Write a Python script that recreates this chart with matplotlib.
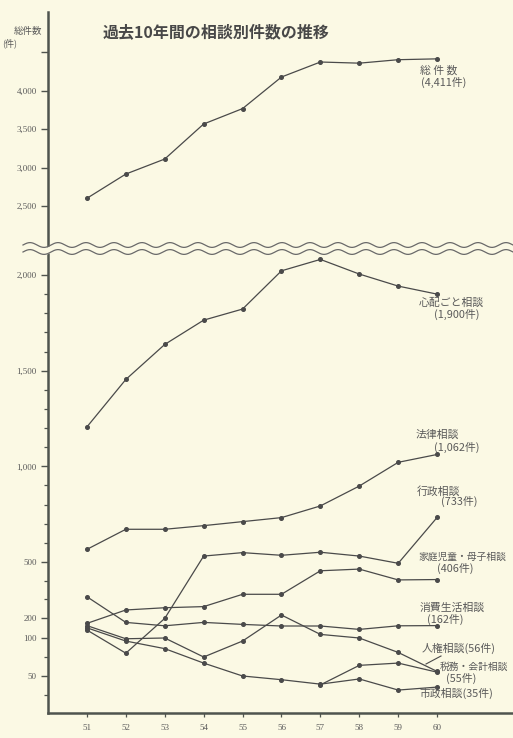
import numpy as np
import matplotlib
matplotlib.use('Agg')
import matplotlib.pyplot as plt
from matplotlib.lines import Line2D

# ---------------- data ----------------
years = [51, 52, 53, 54, 55, 56, 57, 58, 59, 60]
year_labels = ['51', '52', '53', '54', '55', '56', '57', '58', '59', '60']

total    = [2600, 2915, 3110, 3565, 3765, 4175, 4370, 4355, 4400, 4411]
shinpai  = [1206, 1454, 1637, 1764, 1822, 2022, 2082, 2005, 1942, 1900]
houritsu = [566, 671, 671, 690, 711, 732, 793, 897, 1021, 1062]
gyousei  = [140, 80, 198, 531, 549, 535, 551, 531, 493, 733]
katei    = [173, 243, 255, 261, 327, 327, 453, 462, 404, 406]
shouhi   = [314, 178, 161, 178, 168, 160, 160, 143, 161, 162]
jinken   = [162, 99, 100, 75, 96, 216, 118, 100, 81, 56]
zeimu    = [np.nan, np.nan, np.nan, np.nan, np.nan, np.nan, 38, 64, 67, 55]
shisei   = [151, 96, 86, 67, 50, 45, 39, 46, 31, 35]

series = [total, shinpai, houritsu, gyousei, katei, shouhi, jinken, zeimu, shisei]

major_ticks = [50, 100, 200, 500, 1000, 1500, 2000, 2500, 3000, 3500, 4000, 4500]
major_labels = ['50', '100', '200', '500', '1,000', '1,500', '2,000',
                '2,500', '3,000', '3,500', '4,000', '']
minor_ticks = [25, 75, 300, 400, 600, 700, 800, 900, 1100, 1200, 1300, 1400,
               1600, 1700, 1800, 1900]

title = '過去10年間の相談別件数の推移'

# ---------------- style ----------------
BG = '#fbf9e4'
LINE = '#4a4a4a'
TXT = '#5a5a5a'
SPINE = '#4f544e'
JP = ['Noto Sans CJK JP', 'DejaVu Sans']
SERIF = ['Liberation Serif', 'DejaVu Serif']

W, H = 513, 738
fig = plt.figure(figsize=(W / 100, H / 100), dpi=100, facecolor=BG)

ax_left, ax_bottom, ax_top, ax_right = 48, 713, 12, 513
ax = fig.add_axes([ax_left / W, (H - ax_bottom) / H,
                   (ax_right - ax_left) / W, (ax_bottom - ax_top) / H])
ax.set_facecolor(BG)

# piecewise (broken) vertical scale of the original chart
scale_vals = [0, 50, 100, 200, 500, 2000, 2200, 2400, 4500, 5200]
scale_pos = [0, 37, 75, 95, 151, 438, 476, 499.3, 661, 715]


def fwd(v):
    return np.interp(v, scale_vals, scale_pos)


def inv(p):
    return np.interp(p, scale_pos, scale_vals)


ax.set_yscale('function', functions=(fwd, inv))
ax.set_ylim(0, float(inv(701)))
ax.set_xlim(50.0, 61.95)

for s in series:
    ax.plot(years, s, color=LINE, lw=0.9, marker='o', ms=2.6,
            mfc=LINE, mec=LINE, zorder=3)

ax.set_yticks(major_ticks)
ax.set_yticklabels(major_labels)
ax.set_yticks(minor_ticks, minor=True)
ax.set_xticks(years)
ax.set_xticklabels(year_labels)

for lab in ax.get_yticklabels() + ax.get_xticklabels():
    lab.set_family(SERIF)
    lab.set_fontsize(6.5)
    lab.set_color(TXT)

ax.tick_params(axis='y', which='major', direction='out', length=5, width=1.0,
               color=SPINE, pad=3)
ax.tick_params(axis='y', which='minor', direction='out', length=3, width=0.9,
               color=SPINE)
ax.tick_params(axis='x', which='major', direction='out', length=3, width=0.9,
               color=SPINE, pad=5)

for side in ['top', 'right']:
    ax.spines[side].set_visible(False)
for side in ['left', 'bottom']:
    ax.spines[side].set_color(SPINE)
    ax.spines[side].set_linewidth(1.8)

# wavy break marks
axw = ax_right - ax_left
axh = ax_bottom - ax_top
xs = np.linspace(-25 / axw, 1.0, 600)
period = 28 / axw
amp = 2.4 / axh
phase = 2 * np.pi * (xs - xs[0]) / period
y_up = 468 / axh + amp * np.sin(phase)
y_lo = 461 / axh + amp * np.sin(phase)
ax.fill_between(xs, y_lo, y_up, transform=ax.transAxes, color=BG,
                zorder=5, clip_on=False, lw=0)
ax.plot(xs, y_up, transform=ax.transAxes, color='#6a6a6a', lw=0.9,
        zorder=6, clip_on=False)
ax.plot(xs, y_lo, transform=ax.transAxes, color='#6a6a6a', lw=0.9,
        zorder=6, clip_on=False)


def ftext(x, y, s, **kw):
    fig.text(x / W, 1 - y / H, s, va='center', ha='left', family=JP,
             fontsize=kw.pop('fontsize', 7.8), color=kw.pop('color', TXT), **kw)


# title and axis label
ftext(103, 32, title, fontsize=11.5, fontweight='bold', color='#484848')
fig.text(42 / W, 1 - 31 / H, '総件数', ha='right', va='center', family=JP,
         fontsize=6.8, color=TXT)
fig.text(2 / W, 1 - 43 / H, '(件)', ha='left', va='center', family=JP,
         fontsize=6.5, color=TXT)

# series labels
ftext(420, 71, '総 件 数')
ftext(421, 82, '(4,411件)')
ftext(419, 303, '心配ごと相談')
ftext(434, 314, '(1,900件)')
ftext(416, 435, '法律相談')
ftext(434, 447, '(1,062件)')
ftext(417, 491, '行政相談')
ftext(441, 501, '(733件)')
ftext(418, 557, '家庭児童・母子相談', fontsize=7.0)
ftext(437, 568, '(406件)')
ftext(420, 608, '消費生活相談')
ftext(427, 619, '(162件)')
ftext(422, 648, '人権相談(56件)')
ftext(440, 667, '税務・会計相談', fontsize=7.0)
ftext(446, 678, '(55件)')
ftext(420, 693, '市政相談(35件)')

# leader line for 人権相談
fig.add_artist(Line2D([426 / W, 441 / W], [1 - 664 / H, 1 - 656 / H],
                      color=LINE, lw=0.8))

fig.savefig('out.png', dpi=100, facecolor=BG)
